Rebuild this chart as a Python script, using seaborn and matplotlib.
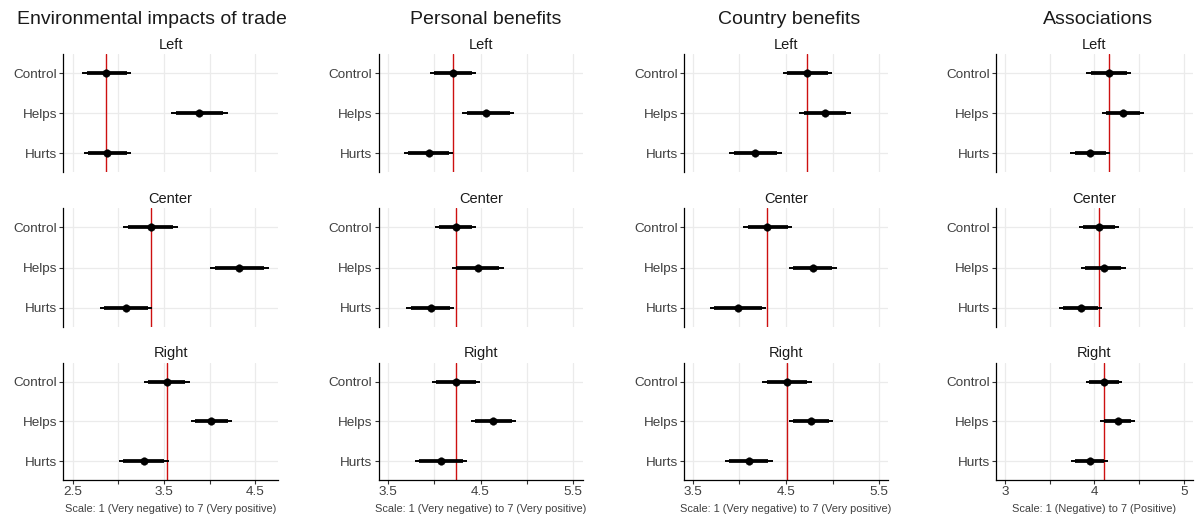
import matplotlib
matplotlib.use("Agg")
import matplotlib.pyplot as plt
import seaborn as sns
import pandas as pd

# ---------------- data ----------------
conditions = ["Control", "Helps", "Hurts"]
ideologies = ["Left", "Center", "Right"]
measures = ["Environmental impacts of trade", "Personal benefits", "Country benefits", "Associations"]
xlabels = ["Scale: 1 (Very negative) to 7 (Very positive)",
           "Scale: 1 (Very negative) to 7 (Very positive)",
           "Scale: 1 (Very negative) to 7 (Very positive)",
           "Scale: 1 (Negative) to 7 (Positive)"]

# order of 9 values: Left(Control, Helps, Hurts), Center(...), Right(...)
env_est  = [2.865, 3.883, 2.876, 3.354, 4.325, 3.080, 3.530, 4.018, 3.278]
env_lo95 = [2.605, 3.577, 2.624, 3.054, 4.004, 2.800, 3.281, 3.796, 3.007]
env_hi95 = [3.135, 4.198, 3.138, 3.657, 4.653, 3.368, 3.785, 4.248, 3.551]
env_lo90 = [2.653, 3.628, 2.667, 3.102, 4.058, 2.843, 3.328, 3.840, 3.054]
env_hi90 = [3.090, 4.143, 3.090, 3.602, 4.599, 3.320, 3.733, 4.200, 3.503]

pers_est  = [4.200, 4.559, 3.948, 4.233, 4.470, 3.963, 4.233, 4.638, 4.074]
pers_lo95 = [3.956, 4.304, 3.679, 4.010, 4.190, 3.697, 3.974, 4.398, 3.794]
pers_hi95 = [4.448, 4.864, 4.200, 4.451, 4.753, 4.214, 4.495, 4.879, 4.351]
pers_lo90 = [4.002, 4.351, 3.722, 4.056, 4.233, 3.748, 4.020, 4.440, 3.840]
pers_hi90 = [4.405, 4.818, 4.160, 4.405, 4.703, 4.171, 4.448, 4.836, 4.308]

ctry_est  = [4.728, 4.918, 4.171, 4.300, 4.786, 3.982, 4.514, 4.768, 4.100]
ctry_lo95 = [4.465, 4.643, 3.892, 4.042, 4.529, 3.685, 4.246, 4.532, 3.846]
ctry_hi95 = [4.996, 5.193, 4.460, 4.568, 5.043, 4.282, 4.775, 5.007, 4.357]
ctry_lo90 = [4.514, 4.693, 3.943, 4.089, 4.572, 3.732, 4.293, 4.572, 3.892]
ctry_hi90 = [4.953, 5.143, 4.407, 4.518, 4.996, 4.240, 4.728, 4.964, 4.310]

assoc_est  = [4.159, 4.319, 3.955, 4.048, 4.104, 3.847, 4.107, 4.263, 3.948]
assoc_lo95 = [3.911, 4.089, 3.732, 3.825, 3.847, 3.605, 3.903, 4.067, 3.736]
assoc_hi95 = [4.412, 4.550, 4.178, 4.274, 4.349, 4.089, 4.312, 4.457, 4.152]
assoc_lo90 = [3.959, 4.134, 3.780, 3.873, 3.900, 3.650, 3.940, 4.107, 3.780]
assoc_hi90 = [4.364, 4.505, 4.134, 4.226, 4.301, 4.040, 4.271, 4.412, 4.107]

xticks_list = [[2.5, 3.0, 3.5, 4.0, 4.5], [3.5, 4.0, 4.5, 5.0, 5.5],
               [3.5, 4.0, 4.5, 5.0, 5.5], [3.0, 3.5, 4.0, 4.5, 5.0]]
xticklabels_list = [["2.5", "", "3.5", "", "4.5"], ["3.5", "", "4.5", "", "5.5"],
                    ["3.5", "", "4.5", "", "5.5"], ["3", "", "4", "", "5"]]

# ---------------- table ----------------
series = [
    (env_est, env_lo95, env_hi95, env_lo90, env_hi90),
    (pers_est, pers_lo95, pers_hi95, pers_lo90, pers_hi90),
    (ctry_est, ctry_lo95, ctry_hi95, ctry_lo90, ctry_hi90),
    (assoc_est, assoc_lo95, assoc_hi95, assoc_lo90, assoc_hi90),
]
rows = []
for m, (e, l95, h95, l90, h90) in zip(measures, series):
    for i in range(9):
        rows.append(dict(measure=m, ideology=ideologies[i // 3], condition=conditions[i % 3],
                         est=e[i], lo95=l95[i], hi95=h95[i], lo90=l90[i], hi90=h90[i]))
df = pd.DataFrame(rows)

# ---------------- style ----------------
sns.set_theme(style="white")
plt.rcParams["font.family"] = ["Liberation Sans", "DejaVu Sans"]

W, H = 1195, 520
fig = plt.figure(figsize=(W / 100, H / 100), dpi=100)

col_px = [(63.3, 278.0), (378.7, 582.7), (684.3, 887.7), (996.0, 1192.5)]
row_px = [(54.3, 172.3), (208.3, 326.7), (362.7, 480.0)]
xlims = [(2.397, 4.749), (3.403, 5.601), (3.41, 5.59), (2.90, 5.096)]
title_cx = [152, 486, 789, 1098]

grid_c = "#EBEBEB"
txt_c = "#404040"

for ci, m in enumerate(measures):
    fig.text(title_cx[ci] / W, 1 - 19 / H, m, ha="center", va="center",
             fontsize=14, color="#1A1A1A")
    for ri, ideo in enumerate(ideologies):
        x0, x1 = col_px[ci]
        y0, y1 = row_px[ri]
        ax = fig.add_axes([x0 / W, 1 - y1 / H, (x1 - x0) / W, (y1 - y0) / H])
        sub = df[(df.measure == m) & (df.ideology == ideo)].copy()
        sub["ypos"] = sub["condition"].map({c: i for i, c in enumerate(conditions)})

        ax.set_axisbelow(True)
        ctrl = sub.loc[sub.condition == "Control", "est"].iloc[0]
        ax.axvline(ctrl, color="#CD1010", lw=1.0, zorder=1)
        ax.hlines(sub["ypos"], sub["lo95"], sub["hi95"], color="black", lw=1.4, zorder=2)
        ax.hlines(sub["ypos"], sub["lo90"], sub["hi90"], color="black", lw=2.7, zorder=3)
        sns.scatterplot(data=sub, x="est", y="ypos", ax=ax, color="black", s=30,
                        edgecolor="black", linewidth=0.3, zorder=4, legend=False)

        ax.set_xlim(*xlims[ci])
        ax.set_ylim(2.475, -0.475)
        ax.set_yticks(range(3))
        ax.set_yticklabels(conditions)
        ax.set_xticks(xticks_list[ci])
        ax.grid(True, color=grid_c, lw=0.9)
        ax.set_ylabel("")
        for s in ["top", "right"]:
            ax.spines[s].set_visible(False)
        ax.spines["left"].set_color("black")
        ax.spines["left"].set_linewidth(0.9)
        ax.tick_params(axis="y", length=3, width=0.8, color="#333333", labelsize=9.7,
                       labelcolor=txt_c, pad=1.5, left=True)
        ax.set_title(ideo, fontsize=10.5, color="#1A1A1A", pad=4)
        if ri == 2:
            ax.set_xticklabels(xticklabels_list[ci])
            ax.spines["bottom"].set_color("black")
            ax.spines["bottom"].set_linewidth(0.9)
            ax.tick_params(axis="x", length=3, width=0.8, color="#333333", labelsize=9.7,
                           labelcolor=txt_c, pad=1.5, bottom=True)
            ax.set_xlabel(xlabels[ci], fontsize=7.9, color=txt_c, labelpad=4)
        else:
            ax.spines["bottom"].set_visible(False)
            ax.tick_params(axis="x", length=0, labelbottom=False)
            ax.set_xlabel("")

fig.savefig("out.png", dpi=100)
